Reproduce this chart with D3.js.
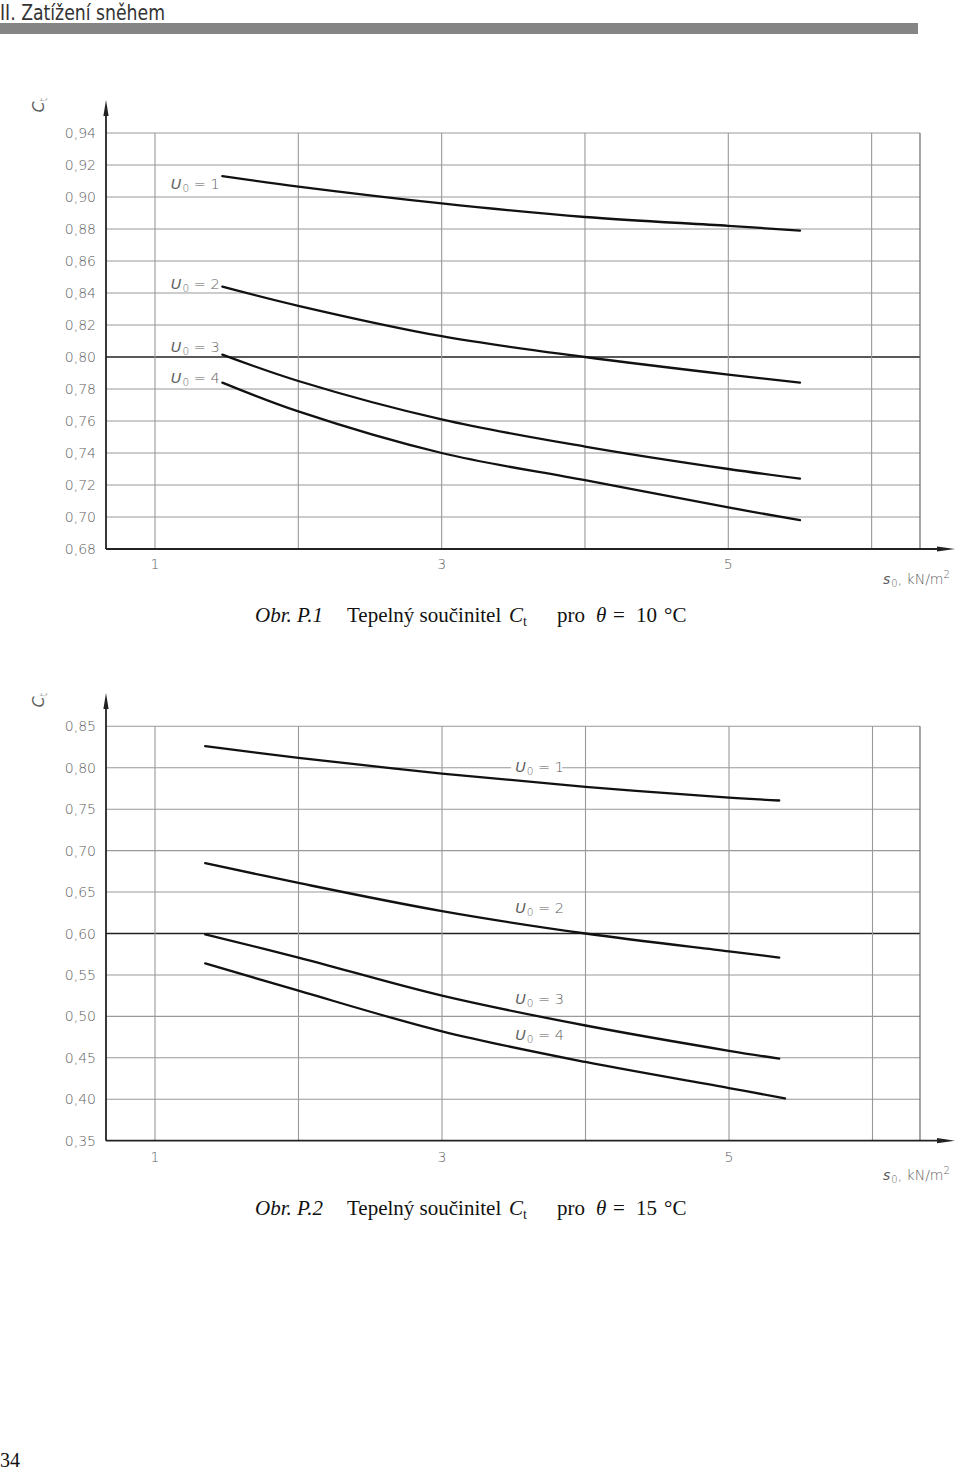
<!DOCTYPE html>
<html><head><meta charset="utf-8">
<script src="https://cdn.jsdelivr.net/npm/d3@7/dist/d3.min.js"></script>
<style>
html,body{margin:0;padding:0;background:#fff;}
svg{display:block;}
.tick-lbl{font-family:"DejaVu Sans",sans-serif;font-weight:300;fill:#5e5e5e;}
</style>
</head><body>
<svg id="page" width="960" height="1470"></svg>
<script>
// ---------- DATA ----------
const gridS = [1, 2, 3, 4, 5, 6];
const xTickLabels = [1, 3, 5];

// Figure P.1 (theta = 10 °C)
const topYTicks = [0.68, 0.70, 0.72, 0.74, 0.76, 0.78, 0.80, 0.82, 0.84, 0.86, 0.88, 0.90, 0.92, 0.94];
const topS = [1.47, 2, 3, 4, 5, 5.5];
const topU1 = [0.913, 0.9065, 0.896, 0.8875, 0.882, 0.879];
const topU2 = [0.844, 0.832, 0.813, 0.800, 0.789, 0.784];
const topU3 = [0.8015, 0.785, 0.761, 0.744, 0.730, 0.724];
const topU4 = [0.784, 0.766, 0.740, 0.723, 0.706, 0.698];
const topLabelS = [1.11, 1.11, 1.11, 1.11];
const topLabelV = [0.905, 0.8425, 0.8033, 0.7838];

// Figure P.2 (theta = 15 °C)
const botYTicks = [0.35, 0.40, 0.45, 0.50, 0.55, 0.60, 0.65, 0.70, 0.75, 0.80, 0.85];
const botS = [1.35, 2, 3, 4, 5, 5.35];
const botS4 = [1.35, 2, 3, 4, 5, 5.39];
const botU1 = [0.826, 0.812, 0.793, 0.777, 0.764, 0.7605];
const botU2 = [0.685, 0.661, 0.627, 0.600, 0.5785, 0.571];
const botU3 = [0.599, 0.571, 0.525, 0.489, 0.4585, 0.449];
const botU4 = [0.564, 0.531, 0.482, 0.445, 0.4135, 0.401];
const botLabelS = [3.51, 3.51, 3.51, 3.51];
const botLabelV = [0.7952, 0.6247, 0.5149, 0.4709];

const seriesNames = ["1", "2", "3", "4"];

// ---------- DRAW ----------
const svg = d3.select("#page");

// Header
svg.append("text").attr("x", 0).attr("y", 20)
  .attr("font-family", "'Liberation Sans Narrow','DejaVu Sans Condensed',sans-serif")
  .attr("font-size", 22).attr("fill", "#333")
  .attr("textLength", 165).attr("lengthAdjust", "spacingAndGlyphs")
  .text("II. Zatížení sněhem");
svg.append("rect").attr("x", 0).attr("y", 23).attr("width", 918).attr("height", 11).attr("fill", "#858585");

function fmt(v) { return d3.format(".2f")(v).replace(".", ","); }

function drawChart(cfg) {
  const g = svg.append("g");
  const x = d3.scaleLinear().domain([1, 5]).range([155, cfg.x5]);
  const y = d3.scaleLinear().domain(cfg.yDomain).range(cfg.yRange);
  const axisX = 106, rightX = 920;
  const y0 = y(cfg.yDomain[0]), yTop = y(cfg.yDomain[1]);

  // horizontal grid
  g.selectAll(".hg").data(cfg.yTicks.slice(1)).enter().append("line")
    .attr("x1", axisX).attr("x2", rightX)
    .attr("y1", d => y(d)).attr("y2", d => y(d))
    .attr("stroke", d => Math.abs(d - cfg.darkLine) < 1e-6 ? "#222" : "#999")
    .attr("stroke-width", d => Math.abs(d - cfg.darkLine) < 1e-6 ? 1.4 : 1.1);
  // vertical grid
  g.selectAll(".vg").data(gridS).enter().append("line")
    .attr("x1", d => x(d)).attr("x2", d => x(d))
    .attr("y1", yTop).attr("y2", y0)
    .attr("stroke", "#999").attr("stroke-width", 1.1);
  g.append("line").attr("x1", rightX).attr("x2", rightX).attr("y1", yTop).attr("y2", y0)
    .attr("stroke", "#6a6a6a").attr("stroke-width", 1.2);

  // axes
  g.append("line").attr("x1", axisX).attr("x2", 945).attr("y1", y0).attr("y2", y0)
    .attr("stroke", "#222").attr("stroke-width", 1.8);
  g.append("path").attr("d", `M955,${y0} L937,${y0 - 2.6} L937,${y0 + 2.6} Z`).attr("fill", "#222");
  g.append("line").attr("x1", axisX).attr("x2", axisX).attr("y1", y0).attr("y2", cfg.arrowTop + 10)
    .attr("stroke", "#222").attr("stroke-width", 1.8);
  g.append("path").attr("d", `M${axisX},${cfg.arrowTop} L${axisX - 2.6},${cfg.arrowTop + 16} L${axisX + 2.6},${cfg.arrowTop + 16} Z`).attr("fill", "#222");

  // y tick labels
  g.selectAll(".yl").data(cfg.yTicks).enter().append("text")
    .attr("class", "tick-lbl").attr("font-size", 14)
    .attr("x", 96).attr("y", d => y(d)).attr("dy", "0.36em")
    .attr("text-anchor", "end").text(fmt);
  // x tick labels
  g.selectAll(".xl").data(xTickLabels).enter().append("text")
    .attr("class", "tick-lbl").attr("font-size", 14)
    .attr("x", d => x(d)).attr("y", y0 + cfg.xLblOff)
    .attr("text-anchor", "middle").text(d => d);

  // y axis title Ct (rotated)
  const yt = g.append("text").attr("class", "tick-lbl").attr("font-size", 16)
    .attr("transform", `translate(44,${cfg.ctY}) rotate(-90)`).attr("text-anchor", "middle");
  yt.append("tspan").attr("font-style", "italic").text("C");
  yt.append("tspan").attr("font-size", 10).attr("dy", 3).text("t");

  // x axis title
  const xt = g.append("text").attr("class", "tick-lbl").attr("font-size", 14)
    .attr("x", 883).attr("y", cfg.sLblY);
  xt.append("tspan").attr("font-style", "italic").text("s");
  xt.append("tspan").attr("font-size", 10).attr("dy", 3).attr("dx", 1).text("0");
  xt.append("tspan").attr("dy", -3).text(", kN/m");
  xt.append("tspan").attr("font-size", 10).attr("dy", -6).text("2");

  // curves
  const line = d3.line().x(d => x(d[0])).y(d => y(d[1])).curve(d3.curveCatmullRom.alpha(0.5));
  cfg.series.forEach(s => {
    g.append("path").datum(d3.zip(s.s, s.v)).attr("d", line)
      .attr("fill", "none").attr("stroke", "#111").attr("stroke-width", 2.3)
      .attr("stroke-linecap", "round");
  });

  // labels U0 = n
  seriesNames.forEach((n, i) => {
    const lx = x(cfg.labelS[i]), ly = y(cfg.labelV[i]);
    if (cfg.labelBg[i]) {
      g.append("rect").attr("x", lx - 4).attr("y", ly - 13).attr("width", 51).attr("height", 18).attr("fill", "#fff");
    }
    const t = g.append("text").attr("class", "tick-lbl").attr("font-size", 14.5)
      .attr("x", lx).attr("y", ly);
    t.append("tspan").attr("font-style", "italic").text("U");
    t.append("tspan").attr("font-size", 10.5).attr("dy", 3).attr("dx", 1).text("0");
    t.append("tspan").attr("dy", -3).text(" = " + n);
  });
}

drawChart({
  yDomain: [0.68, 0.94], yRange: [549, 133], x5: 728.3, yTicks: topYTicks, darkLine: 0.80,
  arrowTop: 100, ctY: 105, sLblY: 584, xLblOff: 20,
  series: [{s: topS, v: topU1}, {s: topS, v: topU2}, {s: topS, v: topU3}, {s: topS, v: topU4}],
  labelS: topLabelS, labelV: topLabelV, labelBg: [false, false, false, false]
});
drawChart({
  yDomain: [0.35, 0.85], yRange: [1140.7, 726.3], x5: 729, yTicks: botYTicks, darkLine: 0.60,
  arrowTop: 693, ctY: 700, sLblY: 1180, xLblOff: 21,
  series: [{s: botS, v: botU1}, {s: botS, v: botU2}, {s: botS, v: botU3}, {s: botS4, v: botU4}],
  labelS: botLabelS, labelV: botLabelV, labelBg: [true, false, false, false]
});

// Captions
function caption(yBase, num, temp) {
  const g = svg.append("g")
    .attr("font-family", "'Liberation Serif','Times New Roman',serif").attr("font-size", 21).attr("fill", "#111");
  g.append("text").attr("x", 255).attr("y", yBase).attr("font-style", "italic").text("Obr. P." + num);
  g.append("text").attr("x", 347).attr("y", yBase).text("Tepelný součinitel");
  const c = g.append("text").attr("x", 509).attr("y", yBase);
  c.append("tspan").attr("font-style", "italic").text("C");
  c.append("tspan").attr("font-size", 14).attr("dy", 4).text("t");
  g.append("text").attr("x", 557).attr("y", yBase).text("pro");
  g.append("text").attr("x", 596).attr("y", yBase).attr("font-style", "italic").text("θ");
  g.append("text").attr("x", 613).attr("y", yBase).text("=");
  g.append("text").attr("x", 636).attr("y", yBase).text(String(temp));
  g.append("text").attr("x", 664).attr("y", yBase).text("°C");
}
caption(622, 1, 10);
caption(1215, 2, 15);

// Page number
svg.append("text").attr("x", 0).attr("y", 1467)
  .attr("font-family", "'Liberation Serif','Times New Roman',serif").attr("font-size", 20).attr("fill", "#111")
  .text("34");
</script>
</body></html>
